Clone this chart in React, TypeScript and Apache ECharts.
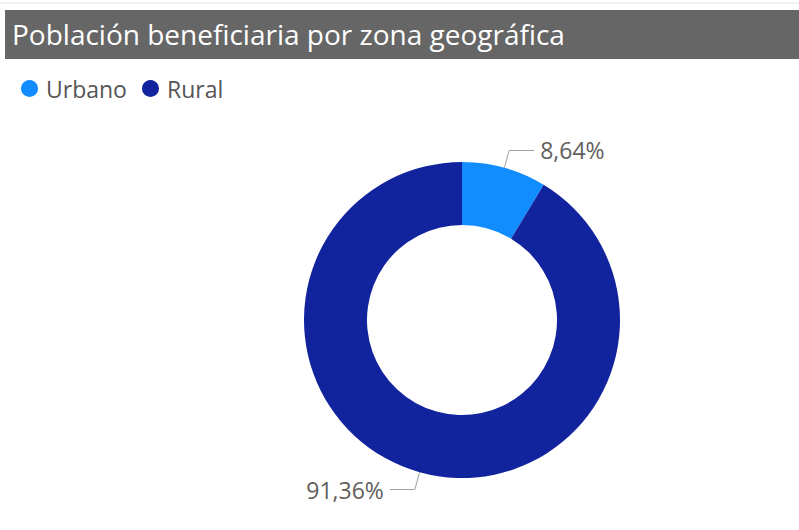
import React, { useEffect, useRef } from "react";
import * as echarts from "echarts";

const titleText = "Población beneficiaria por zona geográfica";
const categories = ["Urbano", "Rural"];
const values = [8.64, 91.36];
const colors = ["#118DFF", "#12239E"];

export default function App() {
  const ref = useRef<HTMLDivElement>(null);
  useEffect(() => {
    document.body.style.margin = "0";
    const chart = echarts.init(ref.current!, null, { renderer: "svg" });
    chart.setOption({
      animation: false,
      backgroundColor: "#ffffff",
      graphic: [
        { type: "rect", shape: { x: 0, y: 2, width: 799, height: 2 }, style: { fill: "#f0f0f0" } },
        { type: "rect", shape: { x: 5, y: 10, width: 794, height: 49 }, style: { fill: "#666666" } },
        {
          type: "text",
          x: 12,
          y: 34,
          style: {
            text: titleText,
            fill: "#ffffff",
            font: "28px 'Open Sans', sans-serif",
            verticalAlign: "middle",
          },
        },
      ],
      legend: {
        left: 16,
        top: 72,
        icon: "circle",
        itemWidth: 17,
        itemHeight: 17,
        itemGap: 15,
        textStyle: { fontFamily: "'Open Sans', sans-serif", fontSize: 23, color: "#555555", padding: [0, 0, 0, 3] },
        data: categories,
      },
      series: [
        {
          type: "pie",
          center: [462, 320],
          radius: [95, 158],
          startAngle: 90,
          clockwise: true,
          avoidLabelOverlap: false,
          data: categories.map((c, i) => ({ name: c, value: values[i], itemStyle: { color: colors[i] } })),
          label: {
            show: true,
            formatter: (p: any) => p.value.toFixed(2).replace(".", ",") + "%",
            fontFamily: "'Open Sans', sans-serif",
            fontSize: 23,
            color: "#605E5C",
            distanceToLabelLine: 6,
          },
          labelLine: {
            show: true,
            length: 18,
            length2: 25,
            lineStyle: { color: "#A0A0A0", width: 1 },
          },
          emphasis: { disabled: true },
        },
      ],
    });
    return () => chart.dispose();
  }, []);
  return <div ref={ref} style={{ width: 799, height: 530 }} />;
}
